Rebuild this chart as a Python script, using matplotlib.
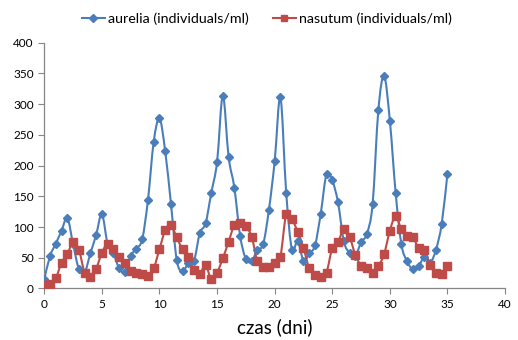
import matplotlib
matplotlib.use("Agg")
import matplotlib.pyplot as plt
from matplotlib.path import Path
from matplotlib.patches import PathPatch
from matplotlib.lines import Line2D
import numpy as np

days = [i * 0.5 for i in range(71)]
aurelia = [15, 53, 73, 94, 115, 72, 32, 26, 57, 87, 121, 72, 57, 33, 27, 53, 65, 80,
           144, 239, 277, 223, 137, 46, 28, 41, 45, 90, 106, 156, 206, 314, 214, 164,
           86, 48, 44, 63, 72, 128, 207, 311, 156, 63, 78, 45, 57, 70, 122, 186, 176,
           140, 77, 58, 53, 75, 89, 137, 290, 346, 273, 156, 72, 44, 31, 36, 52, 42,
           63, 105, 187]
nasutum = [6, 8, 17, 42, 56, 75, 63, 26, 18, 32, 58, 73, 64, 52, 41, 28, 26, 24, 21,
           33, 64, 95, 103, 83, 64, 52, 30, 24, 38, 15, 26, 49, 76, 103, 106, 102, 84,
           45, 35, 35, 41, 52, 121, 113, 92, 66, 33, 22, 18, 26, 66, 76, 96, 84, 55,
           37, 33, 25, 36, 56, 94, 118, 96, 86, 83, 66, 63, 38, 26, 24, 37]
labels = ["aurelia (individuals/ml)", "nasutum (individuals/ml)"]
xticks = [0, 5, 10, 15, 20, 25, 30, 35, 40]
yticks = [0, 50, 100, 150, 200, 250, 300, 350, 400]

BLUE = "#4A7EBB"
RED = "#BE4B48"
GRAY = "#868686"

plt.rcParams['font.family'] = ['Lato', 'DejaVu Sans']

fig = plt.figure(figsize=(5.18, 3.4), dpi=100)
ax = fig.add_axes([0.0855, 0.1515, 0.8895, 0.723])


def smooth_path(x, y):
    pts = np.column_stack([x, y]).astype(float)
    n = len(pts)
    verts = [pts[0]]
    codes = [Path.MOVETO]
    for i in range(n - 1):
        p0 = pts[i - 1] if i > 0 else pts[i]
        p1 = pts[i]
        p2 = pts[i + 1]
        p3 = pts[i + 2] if i + 2 < n else pts[i + 1]
        c1 = p1 + (p2 - p0) / 6.0
        c2 = p2 - (p3 - p1) / 6.0
        verts += [c1, c2, p2]
        codes += [Path.CURVE4] * 3
    return Path(verts, codes)


for ys, col, mk, ms in [(aurelia, BLUE, "D", 4.2), (nasutum, RED, "s", 5.5)]:
    ax.add_patch(PathPatch(smooth_path(days, ys), facecolor="none",
                           edgecolor=col, lw=1.5, zorder=2))
    ax.plot(days, ys, linestyle="none", marker=mk, markersize=ms,
            color=col, markeredgecolor=col, zorder=3)

ax.set_xlim(0, 40)
ax.set_ylim(0, 400)
ax.set_xticks(xticks)
ax.set_yticks(yticks)
ax.tick_params(axis="both", colors=GRAY, length=4, width=0.8, labelcolor="black",
               labelsize=8.5)
for s in ["top", "right"]:
    ax.spines[s].set_visible(False)
for s in ["left", "bottom"]:
    ax.spines[s].set_color(GRAY)
    ax.spines[s].set_linewidth(0.9)

ax.set_xlabel("czas (dni)", fontsize=13.5, labelpad=6)

handles = [Line2D([], [], color=BLUE, marker="D", markersize=4, lw=1.5),
           Line2D([], [], color=RED, marker="s", markersize=5, lw=1.5)]
fig.legend(handles, labels, loc="upper center", bbox_to_anchor=(0.515, 1.0),
           ncol=2, frameon=False, fontsize=10.3, handlelength=1.6,
           handletextpad=0.2, columnspacing=1.7)

fig.savefig("out.png", dpi=100)
